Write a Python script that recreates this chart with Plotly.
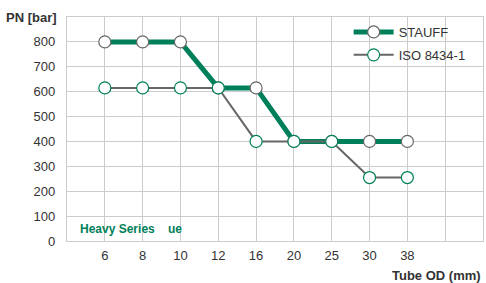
import plotly.graph_objects as go

categories = ["6", "8", "10", "12", "16", "20", "25", "30", "38"]
stauff = [800, 800, 800, 615, 615, 400, 400, 400, 400]
iso = [615, 615, 615, 615, 400, 400, 400, 255, 255]

x_idx = list(range(len(categories)))
FONT = "Liberation Sans, Arial, sans-serif"
GREEN = "#00805a"
GRAY = "#666666"
GRID = "#cccccc"
TXT = "#333333"

fig = go.Figure()
fig.add_trace(go.Scatter(
    x=x_idx, y=stauff, name="STAUFF", mode="lines+markers", legendgroup="a",
    line=dict(color=GREEN, width=5),
    marker=dict(size=12, color="white", line=dict(color=GRAY, width=1.2)),
))
fig.add_trace(go.Scatter(
    x=x_idx, y=iso, name="ISO 8434-1", mode="lines+markers", legendgroup="b",
    line=dict(color=GRAY, width=2),
    marker=dict(size=12, color="white", line=dict(color=GREEN, width=1.2)),
))

tickvals = list(range(-1, 11))
ticktext = [""] + categories + ["", ""]

fig.update_layout(
    width=486, height=283,
    margin=dict(l=67, r=3, t=17, b=42, autoexpand=False),
    paper_bgcolor="white", plot_bgcolor="white",
    font=dict(family=FONT, size=13, color=TXT),
    showlegend=True,
    legend=dict(x=0.677, y=1.0, xanchor="left", yanchor="top",
                bgcolor="rgba(0,0,0,0)", font=dict(size=13, color=TXT),
                itemwidth=40, tracegroupgap=3),
    xaxis=dict(range=[-1, 10], tickmode="array", tickvals=tickvals, ticktext=ticktext,
               showgrid=True, gridcolor=GRID, gridwidth=1.3, automargin=False,
               showline=True, linecolor=GRID, linewidth=1.3, mirror=True,
               zeroline=False, ticks="", ticklabelstandoff=2, fixedrange=True),
    yaxis=dict(range=[0, 900], tickmode="array", tickvals=list(range(0, 900, 100)),
               showgrid=True, gridcolor=GRID, gridwidth=1.3, automargin=False,
               showline=True, linecolor=GRID, linewidth=1.3, mirror=True,
               zeroline=False, ticks="", ticklabelstandoff=8, fixedrange=True),
    annotations=[
        dict(text="<b>PN [bar]</b>", xref="paper", yref="paper", x=0, y=1.0,
             xanchor="right", yanchor="middle", xshift=-8, yshift=0, showarrow=False,
             font=dict(size=13, color=TXT)),
        dict(text="<b>Tube OD (mm)</b>", xref="paper", yref="paper", x=1.0, y=0,
             xanchor="right", yanchor="middle", yshift=-34, showarrow=False,
             font=dict(size=13, color=TXT)),
        dict(text="<b>Heavy Series</b>", xref="x", yref="y", x=-0.7, y=50,
             xanchor="left", yanchor="middle", showarrow=False,
             font=dict(size=12, color=GREEN)),
        dict(text="<b>ue</b>", xref="x", yref="y", x=1.62, y=50,
             xanchor="left", yanchor="middle", showarrow=False,
             font=dict(size=12, color=GREEN)),
    ],
)

fig.write_html("out.html", config={"displayModeBar": False},
               post_script="document.body.style.margin='0';document.body.style.overflow='hidden';")
